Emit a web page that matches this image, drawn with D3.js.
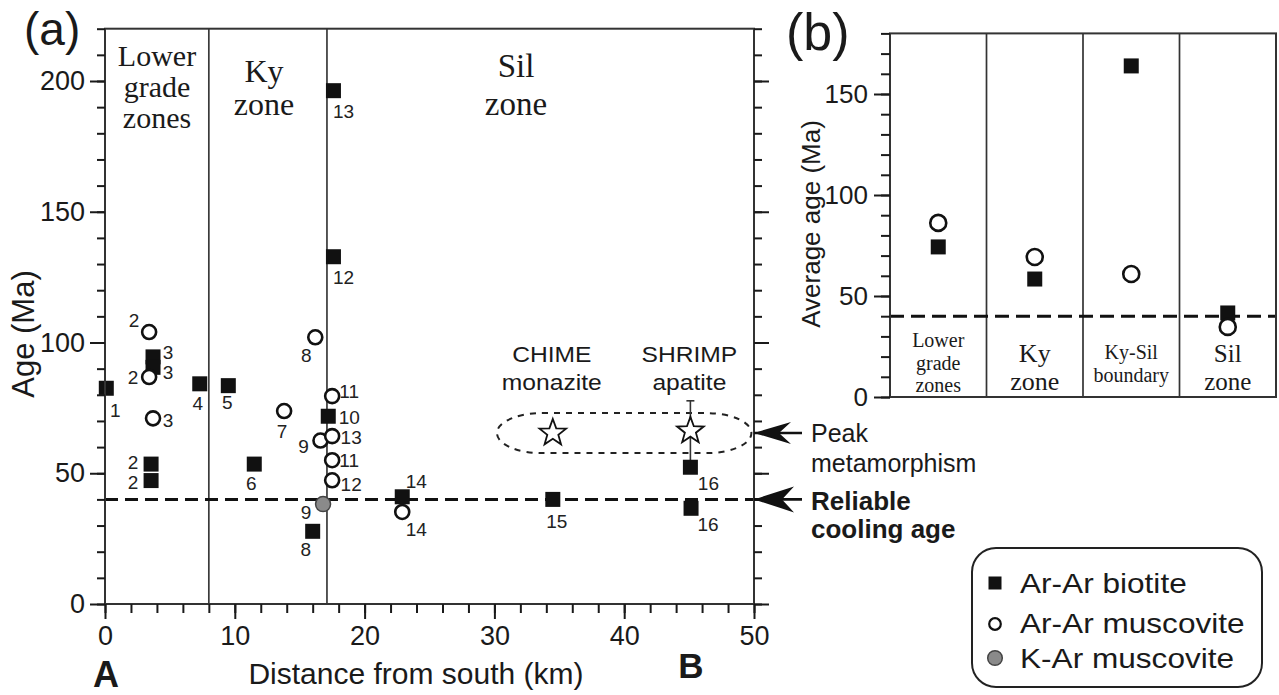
<!DOCTYPE html>
<html><head><meta charset="utf-8">
<script src="https://cdn.jsdelivr.net/npm/d3@7"></script>
<style>body{margin:0;background:#fff} svg{display:block}</style>
</head><body><svg id="c" width="1279" height="695"></svg>
<script>
// ---------------- DATA ----------------
// Panel (a): Ar-Ar biotite
const biotiteKm  = [0.1, 3.7, 3.7, 3.55, 3.55, 7.3, 9.5, 11.5, 16.0, 17.2, 17.6, 17.6, 22.9, 34.5, 45.1, 45.15];
const biotiteAge = [82.5, 94.5, 90.5, 53.5, 47.2, 84.2, 83.5, 53.5, 27.8, 71.8, 132.8, 196.3, 41.0, 40.0, 52.3, 36.6];
const biotiteId  = ["1","3","3","2","2","4","5","6","8","10","12","13","14","15","16","16"];
// Ar-Ar muscovite
const muscKm  = [3.4, 3.4, 3.7, 13.8, 16.2, 16.6, 17.5, 17.5, 17.5, 17.5, 22.9];
const muscAge = [104, 86.8, 71, 73.8, 102, 62.5, 79.5, 64.2, 55, 47.3, 35.2];
const muscId  = ["2","2","3","7","8","9","11","13","11","12","14"];
// K-Ar muscovite
const karKm  = [16.8];
const karAge = [38.2];
const karId  = ["9"];
// Peak metamorphism ages (stars)
const starMethod = ["CHIME monazite", "SHRIMP apatite"];
const starKm  = [34.5, 45.1];
const starAge = [65.4, 66.2];
const starErr = [0, 11.5];
// zones
const zoneNamesA  = ["Lower grade zones", "Ky zone", "Sil zone"];
const zoneBoundKm = [8, 17.1];
const coolingAge = 40;
const peakAge = 65.4;
const peakBandKm  = [30.2, 49.8];
const peakBandAge = [57.7, 73];
const xTicksA = [0, 10, 20, 30, 40, 50];
const yTicksA = [0, 50, 100, 150, 200];
// Panel (b)
const zonesB = ["Lower grade zones", "Ky zone", "Ky-Sil boundary", "Sil zone"];
const avgBiotite = [74.3, 58.4, 163.9, 41.6];
const avgMusc    = [86.2, 69.3, 60.9, 34.7];
const yTicksB = [0, 50, 100, 150];
const legendItems = ["Ar-Ar biotite", "Ar-Ar muscovite", "K-Ar muscovite"];

// ---------------- STYLE ----------------
const F = "'Liberation Sans', Arial, Helvetica, sans-serif";
const FS = "'Liberation Serif', 'Times New Roman', serif";
const ink = "#1a1a1a";
// label offsets (label centre relative to marker centre, px)
const bioLabelOff  = [[9,22],[15,-4],[15,5],[-18,-2],[-18,2],[-2,20],[-1,17],[-3,19],[-7,18],[21,1],[10,21],[10,21],[14,-15],[4,22],[18,16],[17,16]];
const muscLabelOff = [[-15,-12],[-16,0],[15,2],[-2,20],[-9,18],[-17,6],[17,-5],[19,1],[17,0],[19,4],[14,18]];
const karLabelOff  = [[-17,8]];
const zoneLabelA = [
  {x:157, base:[66,97,128], fs:30},
  {x:264, base:[82,115], fs:32},
  {x:516, base:[77,115], fs:33}
];
const zoneLabelB = [
  {base:[347,369.5,392], fs:20},
  {base:[362,390], fs:26},
  {base:[359,382], fs:20},
  {base:[362,390], fs:25}
];

const svg = d3.select("#c");
svg.append("rect").attr("width",1279).attr("height",695).attr("fill","#fff");

function txt(g, x, y, s, o = {}) {
  let tr = `translate(${x},${y})`;
  if (o.rot) tr += ` rotate(${o.rot})`;
  if (o.sx) tr += ` scale(${o.sx},1)`;
  const t = g.append("text").attr("transform", tr)
    .attr("font-family", o.ff || F).attr("font-size", o.fs || 20)
    .attr("fill", o.fill || ink).attr("text-anchor", o.anchor || "start").text(s);
  if (o.bold) t.attr("font-weight", "bold");
  if (o.db) t.attr("dominant-baseline", o.db);
  return t;
}
function styleAxis(g, w) {
  g.selectAll("path.domain").remove();
  g.selectAll("line").attr("stroke", ink).attr("stroke-width", w || 2);
  g.selectAll("text").attr("font-family", F).attr("fill", ink);
}
function starPath(cx, cy, R, r) {
  const pts = [];
  for (let i = 0; i < 10; i++) {
    const a = -Math.PI / 2 + i * Math.PI / 5;
    const rr = i % 2 === 0 ? R : r;
    pts.push([cx + rr * Math.cos(a), cy + rr * Math.sin(a)]);
  }
  return d3.line()(pts) + "Z";
}

// ================= PANEL A =================
const x = d3.scaleLinear().domain([0, 50]).range([105, 754]);
const y = d3.scaleLinear().domain([0, 220]).range([604, 28.7]);
const gA = svg.append("g");

// zone boundaries
gA.selectAll("line.zb").data(zoneBoundKm).join("line")
  .attr("x1", d => x(d)).attr("x2", d => x(d)).attr("y1", y(0)).attr("y2", y(220))
  .attr("stroke", "#3a3a3a").attr("stroke-width", 1.7);

// zone names
zoneNamesA.forEach((n, i) => {
  const L = zoneLabelA[i];
  n.split(" ").forEach((w, j) => txt(gA, L.x, L.base[j], w, {ff: FS, fs: L.fs, anchor: "middle"}));
});

// reliable cooling age line
gA.append("line").attr("x1", x(0)).attr("x2", x(50)).attr("y1", y(coolingAge)).attr("y2", y(coolingAge))
  .attr("stroke", "#111").attr("stroke-width", 3).attr("stroke-dasharray", "13,7");

// peak metamorphism band
gA.append("rect").attr("x", x(peakBandKm[0])).attr("y", y(peakBandAge[1]))
  .attr("width", x(peakBandKm[1]) - x(peakBandKm[0])).attr("height", y(peakBandAge[0]) - y(peakBandAge[1]))
  .attr("rx", 45).attr("ry", 20).attr("fill", "none").attr("stroke", "#222")
  .attr("stroke-width", 2).attr("stroke-dasharray", "6,6");

// error bars
starKm.forEach((k, i) => {
  if (!starErr[i]) return;
  const cx = x(k), y1 = y(starAge[i] + starErr[i]), y2 = y(starAge[i] - starErr[i]);
  gA.append("line").attr("x1", cx).attr("x2", cx).attr("y1", y1).attr("y2", y2).attr("stroke", "#333").attr("stroke-width", 1.6);
  [y1, y2].forEach(yy => gA.append("line").attr("x1", cx - 4).attr("x2", cx + 4).attr("y1", yy).attr("y2", yy).attr("stroke", "#333").attr("stroke-width", 1.6));
});
// stars
gA.selectAll("path.star").data(starKm).join("path")
  .attr("d", (d, i) => starPath(x(d), y(starAge[i]), 14, 5.8))
  .attr("fill", "#fff").attr("stroke", "#111").attr("stroke-width", 1.8).attr("stroke-linejoin", "miter");
// star method text
starMethod.forEach((m, i) => {
  m.split(" ").forEach((w, j) => txt(gA, x(starKm[i]) - 1, [362, 390][j], w, {fs: 22, anchor: "middle", sx: 1.12}));
});

// biotite squares
gA.selectAll("rect.bio").data(biotiteKm).join("rect")
  .attr("x", d => x(d) - 7.5).attr("y", (d, i) => y(biotiteAge[i]) - 7.5)
  .attr("width", 15).attr("height", 15).attr("fill", "#111");
// muscovite circles
gA.selectAll("circle.mus").data(muscKm).join("circle")
  .attr("cx", d => x(d)).attr("cy", (d, i) => y(muscAge[i])).attr("r", 7)
  .attr("fill", "#fff").attr("stroke", "#111").attr("stroke-width", 2.6);
// K-Ar
gA.selectAll("circle.kar").data(karKm).join("circle")
  .attr("cx", d => x(d)).attr("cy", (d, i) => y(karAge[i])).attr("r", 7.5)
  .attr("fill", "#8a8a8a").attr("stroke", "#444").attr("stroke-width", 1.5);

// sample labels
function labels(kms, ages, ids, offs) {
  kms.forEach((k, i) => txt(gA, x(k) + offs[i][0], y(ages[i]) + offs[i][1], ids[i], {fs: 19, anchor: "middle", db: "central", fill: "#222"}));
}
labels(biotiteKm, biotiteAge, biotiteId, bioLabelOff);
labels(muscKm, muscAge, muscId, muscLabelOff);
labels(karKm, karAge, karId, karLabelOff);

// frame + axes
gA.append("rect").attr("x", x(0)).attr("y", y(220)).attr("width", x(50) - x(0)).attr("height", y(0) - y(220))
  .attr("fill", "none").attr("stroke", "#333").attr("stroke-width", 2);
gA.append("g").attr("transform", `translate(${x(0)},0)`)
  .call(d3.axisLeft(y).tickValues(d3.range(0, 221, 10)).tickSize(8).tickFormat("")).call(g => styleAxis(g));
gA.append("g").attr("transform", `translate(${x(0)},0)`)
  .call(d3.axisLeft(y).tickValues(yTicksA).tickSize(15).tickPadding(5)).call(g => styleAxis(g))
  .selectAll("text").attr("font-size", 27);
gA.append("g").attr("transform", `translate(${x(50)},0)`)
  .call(d3.axisRight(y).tickValues(d3.range(0, 221, 10)).tickSize(8).tickFormat("")).call(g => styleAxis(g));
gA.append("g").attr("transform", `translate(${x(50)},0)`)
  .call(d3.axisRight(y).tickValues(yTicksA).tickSize(15).tickFormat("")).call(g => styleAxis(g));
gA.append("g").attr("transform", `translate(0,${y(0)})`)
  .call(d3.axisBottom(x).tickValues(d3.range(0, 51, 2)).tickSize(9).tickFormat("")).call(g => styleAxis(g));
gA.append("g").attr("transform", `translate(0,${y(0)})`)
  .call(d3.axisBottom(x).tickValues(xTicksA).tickSize(15).tickPadding(7)).call(g => styleAxis(g))
  .selectAll("text").attr("font-size", 27);

// axis titles
txt(gA, 416, 684, "Distance from south (km)", {fs: 30, anchor: "middle"});
txt(gA, 34, 334, "Age (Ma)", {fs: 31, anchor: "middle", rot: -90});
txt(gA, 24, 45, "(a)", {fs: 46});
txt(gA, 106, 687, "A", {fs: 36, anchor: "middle", bold: true});
txt(gA, 691, 678, "B", {fs: 35, anchor: "middle", bold: true});

// arrows
function arrow(yy, len, hw, back) {
  const x0 = x(50);
  gA.append("line").attr("x1", x0).attr("x2", x0 + len).attr("y1", yy).attr("y2", yy).attr("stroke", "#111").attr("stroke-width", 2.6);
  gA.append("path").attr("d", `M${x0},${yy} L${x0 + back},${yy - hw} L${x0 + back - 12},${yy} L${x0 + back},${yy + hw} Z`).attr("fill", "#111");
}
arrow(y(peakAge), 48, 11, 37);
arrow(y(coolingAge), 48, 13, 40);
txt(gA, 811, 442, "Peak", {fs: 25});
txt(gA, 811, 472, "metamorphism", {fs: 25});
txt(gA, 811, 510, "Reliable", {fs: 26, bold: true});
txt(gA, 811, 538, "cooling age", {fs: 26, bold: true});

// ================= PANEL B =================
const xb = d3.scaleBand().domain(zonesB).range([890, 1276]).padding(0);
const yb = d3.scaleLinear().domain([0, 180]).range([397, 33.4]);
const gB = svg.append("g");

// dividers
gB.selectAll("line.div").data(zonesB.slice(1)).join("line")
  .attr("x1", d => xb(d)).attr("x2", d => xb(d)).attr("y1", yb(0)).attr("y2", yb(180))
  .attr("stroke", "#333").attr("stroke-width", 1.7);
// cooling line
gB.append("line").attr("x1", 890).attr("x2", 1276).attr("y1", yb(coolingAge)).attr("y2", yb(coolingAge))
  .attr("stroke", "#111").attr("stroke-width", 3).attr("stroke-dasharray", "14,7");
// category labels
zonesB.forEach((n, i) => {
  const L = zoneLabelB[i];
  const cx = xb(n) + xb.bandwidth() / 2;
  n.split(" ").forEach((w, j) => txt(gB, cx, L.base[j], w, {ff: FS, fs: L.fs, anchor: "middle"}));
});
// points
gB.selectAll("rect.bio").data(zonesB).join("rect")
  .attr("x", d => xb(d) + xb.bandwidth() / 2 - 7.5).attr("y", (d, i) => yb(avgBiotite[i]) - 7.5)
  .attr("width", 15).attr("height", 15).attr("fill", "#111");
gB.selectAll("circle.mus").data(zonesB).join("circle")
  .attr("cx", d => xb(d) + xb.bandwidth() / 2).attr("cy", (d, i) => yb(avgMusc[i])).attr("r", 8)
  .attr("fill", "#fff").attr("stroke", "#111").attr("stroke-width", 2.6);
// frame + axes
gB.append("rect").attr("x", 890).attr("y", yb(180)).attr("width", 386).attr("height", yb(0) - yb(180))
  .attr("fill", "none").attr("stroke", "#333").attr("stroke-width", 2);
gB.append("g").attr("transform", "translate(890,0)")
  .call(d3.axisLeft(yb).tickValues(d3.range(0, 181, 10)).tickSize(9).tickFormat("")).call(g => styleAxis(g));
gB.append("g").attr("transform", "translate(890,0)")
  .call(d3.axisLeft(yb).tickValues(yTicksB).tickSize(16).tickPadding(6)).call(g => styleAxis(g))
  .selectAll("text").attr("font-size", 26);
txt(gB, 820, 224, "Average age (Ma)", {fs: 26, anchor: "middle", rot: -90});
txt(gB, 786, 50, "(b)", {fs: 52});

// ================= LEGEND =================
const gL = svg.append("g");
gL.append("rect").attr("x", 972).attr("y", 548).attr("width", 290).attr("height", 139).attr("rx", 24)
  .attr("fill", "#fff").attr("stroke", "#222").attr("stroke-width", 2);
const legY = [583, 624, 658];
gL.append("rect").attr("x", 995 - 6.5).attr("y", legY[0] - 6.5).attr("width", 13).attr("height", 13).attr("fill", "#111");
gL.append("circle").attr("cx", 995).attr("cy", legY[1]).attr("r", 5.8).attr("fill", "#fff").attr("stroke", "#111").attr("stroke-width", 2.2);
gL.append("circle").attr("cx", 995).attr("cy", legY[2]).attr("r", 7.3).attr("fill", "#8a8a8a").attr("stroke", "#444").attr("stroke-width", 1.5);
legendItems.forEach((s, i) => txt(gL, 1020, [593, 633, 668][i], s, {fs: 27, sx: 1.17}));
</script>
</body></html>
